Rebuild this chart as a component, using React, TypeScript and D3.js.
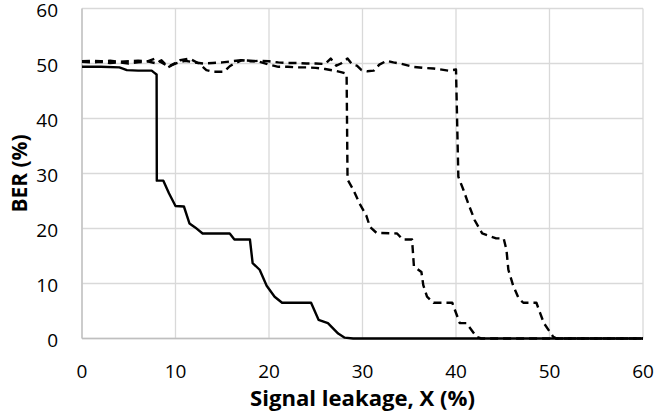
import React from "react";
import * as d3 from "d3";

// Data
const solidX = [0, 2, 4, 4.8, 6, 7.45, 7.75, 7.98, 8.0, 8.7, 9.3, 10.0, 10.9, 11.5, 12.1, 12.9, 15.8, 16.3, 17.96, 18.25, 19.0, 19.75, 20.6, 21.4, 24.5, 25.3, 26.3, 27.4, 28.1, 29.0, 60];
const solidY = [49.4, 49.4, 49.3, 48.8, 48.7, 48.7, 48.3, 48.0, 28.7, 28.7, 26.4, 24.1, 24.0, 20.9, 20.2, 19.1, 19.1, 18.0, 18.0, 13.7, 12.5, 9.6, 7.6, 6.5, 6.5, 3.4, 2.8, 0.9, 0.15, 0, 0];

const dashAX = [0, 1, 2, 3, 4, 5, 6, 7, 7.8, 8.5, 9.2, 10, 11, 12, 13, 14, 15, 16, 17, 18, 19, 20, 21, 22, 23, 24, 25, 26, 27, 27.8, 28.3, 28.4, 29.0, 29.7, 30.4, 30.8, 31.5, 33.7, 34.3, 35.3, 35.5, 36.3, 36.5, 36.9, 37.6, 39.6, 40.4, 41.1, 42.2, 42.7, 60];
const dashAY = [50.3, 50.2, 50.3, 50.1, 50.2, 50.0, 50.2, 50.4, 50.9, 50.2, 49.5, 50.0, 50.5, 50.2, 50.0, 50.1, 50.2, 50.4, 50.6, 50.5, 50.3, 49.8, 49.4, 49.4, 49.3, 49.3, 49.2, 49.0, 48.7, 48.4, 48.1, 28.9, 27.1, 24.5, 22.4, 20.3, 19.2, 19.1, 18.0, 18.0, 13.1, 12.1, 9.7, 7.6, 6.5, 6.5, 2.8, 2.8, 0.3, 0, 0];

const dashBX = [0, 1, 2, 3, 4, 5, 6, 7, 8, 8.5, 9.2, 10.5, 11.5, 12.5, 13.3, 14, 15.2, 15.8, 16.3, 17.1, 18, 19, 20, 21, 22, 23, 24, 25, 26, 26.6, 27.2, 27.7, 28.4, 28.9, 29.4, 29.9, 30.5, 31.2, 31.8, 32.6, 33.3, 34, 35.4, 36.5, 37.6, 39.2, 40.0, 40.25, 40.8, 41.3, 42.0, 42.8, 44.3, 45.1, 45.4, 45.6, 46.1, 46.7, 47.2, 48.6, 49.0, 49.4, 50.4, 50.8, 60];
const dashBY = [50.4, 50.5, 50.4, 50.5, 50.3, 50.4, 50.5, 50.4, 50.0, 50.6, 49.3, 50.6, 50.9, 50.0, 48.8, 48.5, 48.5, 49.5, 50.0, 50.6, 50.4, 50.5, 50.4, 50.2, 50.1, 50.1, 50.0, 50.0, 49.9, 50.9, 49.6, 50.0, 50.9, 49.8, 49.6, 48.8, 48.6, 48.7, 49.8, 50.5, 50.2, 50.0, 49.4, 49.2, 49.1, 48.7, 48.9, 29.4, 27.0, 24.6, 21.5, 19.1, 18.2, 18.2, 16.1, 12.5, 9.7, 7.3, 6.5, 6.5, 4.6, 2.8, 0.3, 0, 0];

const xTicks = [0, 10, 20, 30, 40, 50, 60];
const yTicks = [0, 10, 20, 30, 40, 50, 60];
const xTitle = "Signal leakage, X (%)";
const yTitle = "BER (%)";

const W = 654;
const H = 420;
const left = 82;
const right = 643;
const top = 8.5;
const bottom = 338.5;

export default function App() {
  const x = d3.scaleLinear().domain([0, 60]).range([left, right]);
  const y = d3.scaleLinear().domain([0, 60]).range([bottom, top]);
  const line = d3
    .line<[number, number]>()
    .x((d) => x(d[0]))
    .y((d) => y(d[1]));
  const mk = (xs: number[], ys: number[]) => xs.map((v, i) => [v, ys[i]] as [number, number]);

  const font = "'Open Sans', 'DejaVu Sans', sans-serif";

  return (
    <svg
      width={W}
      height={H}
      viewBox={`0 0 ${W} ${H}`}
      style={{ position: "absolute", left: 0, top: 0, background: "#fff" }}
    >
      <rect x={0} y={0} width={W} height={H} fill="#fff" />
      {/* grid */}
      {yTicks.map((t) => (
        <line key={"gy" + t} x1={left} x2={right} y1={y(t)} y2={y(t)} stroke="#d9d9d9" strokeWidth={1.3} />
      ))}
      {xTicks.map((t) => (
        <line key={"gx" + t} x1={x(t)} x2={x(t)} y1={top} y2={bottom} stroke="#d9d9d9" strokeWidth={1.3} />
      ))}
      {/* axes */}
      <line x1={left} x2={left} y1={top} y2={bottom} stroke="#bfbfbf" strokeWidth={1.3} />
      <line x1={left} x2={right} y1={bottom} y2={bottom} stroke="#bfbfbf" strokeWidth={1.3} />

      {/* series */}
      <path d={line(mk(dashBX, dashBY)) || ""} fill="none" stroke="#000" strokeWidth={2.4} strokeDasharray="8,5" strokeLinejoin="round" />
      <path d={line(mk(dashAX, dashAY)) || ""} fill="none" stroke="#000" strokeWidth={2.4} strokeDasharray="8,5" strokeLinejoin="round" />
      <path d={line(mk(solidX, solidY)) || ""} fill="none" stroke="#000" strokeWidth={2.4} strokeLinejoin="round" />

      {/* tick labels */}
      {xTicks.map((t) => (
        <text key={"xl" + t} x={x(t)} y={378} textAnchor="middle" fontFamily={font} fontSize={19} fill="#000">
          {t}
        </text>
      ))}
      {yTicks.map((t) => (
        <text key={"yl" + t} x={58} y={y(t) + 8.7} textAnchor="end" fontFamily={font} fontSize={19} fill="#000">
          {t}
        </text>
      ))}

      {/* titles */}
      <text x={(left + right) / 2} y={406} textAnchor="middle" fontFamily={font} fontWeight="bold" fontSize={22} fill="#000" textLength={225} lengthAdjust="spacingAndGlyphs">
        {xTitle}
      </text>
      <text
        transform={`translate(27, ${(top + bottom) / 2}) rotate(-90)`}
        textAnchor="middle"
        fontFamily={font}
        fontWeight="bold"
        fontSize={21}
        fill="#000"
        textLength={78}
        lengthAdjust="spacingAndGlyphs"
      >
        {yTitle}
      </text>
    </svg>
  );
}
